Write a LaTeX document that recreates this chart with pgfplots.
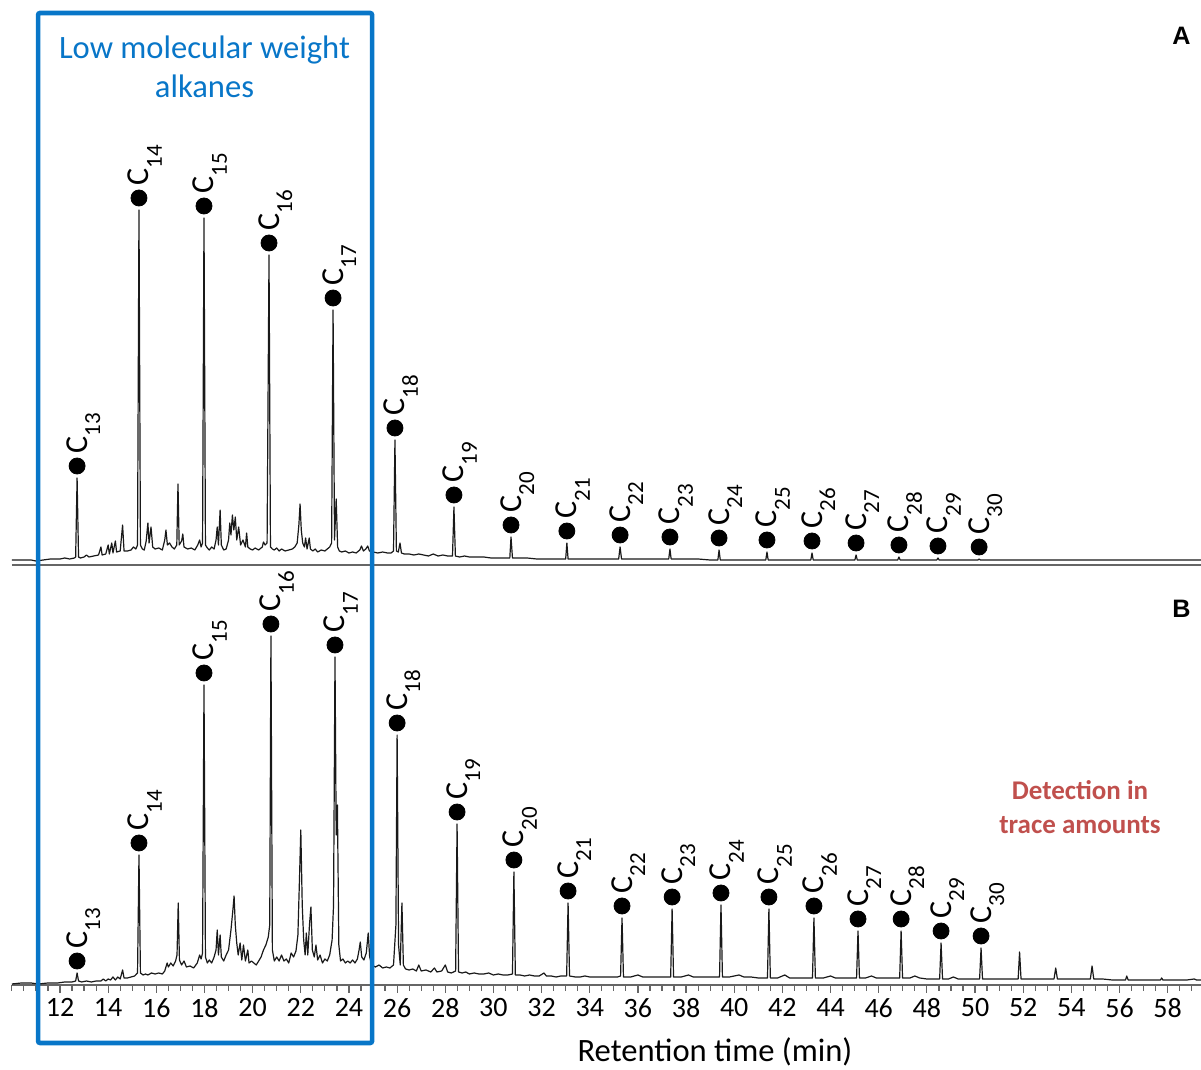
\documentclass[border=0pt]{standalone}
\usepackage{fontspec}
\setmainfont{Carlito}
\newfontfamily\arialf{Liberation Sans}
\usepackage{pgfplots}
\pgfplotsset{compat=1.18}
\definecolor{boxblue}{RGB}{8,118,200}
\definecolor{tracered}{RGB}{192,80,77}
\pgfplotsset{
  chrom/.style={scale only axis, x=12.04pt, y=0.5pt, xmin=10, xmax=59.4, ymin=0,
    axis y line=none, axis x line=bottom, ytick=\empty, clip=false,
    x axis line style={-, black!60, line width=0.8pt}},
  trace/.style={black!90, line width=0.6pt, line join=round},
  dots/.style={only marks, mark=*, mark size=4pt, black, mark options={yshift=6pt}},
  labs/.style={only marks, mark=*, mark size=0.01pt, draw opacity=0, fill opacity=0,
    point meta=explicit symbolic,
    nodes near coords={C\raisebox{-6.5pt}{\fontsize{11.5}{12}\selectfont\pgfplotspointmeta}},
    every node near coord/.style={xshift=5pt, yshift=12pt, rotate=90, anchor=base west,
      inner sep=0pt, text opacity=1, black, font=\fontsize{16}{16}\selectfont}},
}
\begin{document}
\begin{tikzpicture}
% ---------------- Panel B (bottom) ----------------
\begin{axis}[chrom, at={(0,0)}, anchor=south west, ymax=420,
  xtick={12,14,...,58},
  xticklabels={12,14,16,18,20,22,24,26,28,30,32,34,36,38,40,42,44,46,48,50,52,54,56,58},
  minor xtick={10,10.5,...,59},
  xtick align=outside, major tick length=4pt, minor tick length=3pt,
  every tick/.style={black!60, line width=0.6pt},
  xticklabel style={font=\fontsize{14}{14}\selectfont, inner sep=2.5pt, text=black}]
\addplot[trace] table {
10.0 1
10.4 2
10.8 2
11.1 1
11.5 2
11.9 2
12.2 3
12.5 3
12.65 4
12.71 12
12.77 4
12.9 3
13.1 4
13.3 3
13.5 4
13.7 4
13.8 6
13.9 4
14.0 6
14.1 5
14.2 8
14.3 5
14.4 8
14.5 6
14.6 15
14.66 7
14.8 7
14.95 8
15.1 9
15.22 12
15.28 130
15.34 12
15.45 10
15.55 11
15.65 10
15.8 12
15.95 11
16.1 12
16.25 11
16.35 14
16.45 22
16.5 18
16.6 22
16.7 19
16.8 24
16.86 30
16.91 82
16.96 25
17.05 20
17.15 24
17.25 18
17.4 19
17.55 17
17.7 22
17.8 30
17.86 26
17.92 32
17.98 300
18.04 28
18.12 22
18.2 25
18.3 22
18.4 28
18.48 35
18.53 55
18.58 30
18.65 50
18.7 28
18.8 24
18.9 30
19.0 35
19.1 55
19.18 75
19.23 89
19.28 60
19.34 42
19.4 30
19.48 42
19.55 25
19.62 40
19.7 24
19.8 35
19.85 22
19.95 24
20.05 22
20.15 20
20.25 24
20.35 28
20.45 35
20.55 40
20.65 48
20.71 60
20.76 349
20.82 35
20.9 24
21.0 28
21.1 24
21.2 30
21.3 24
21.4 26
21.5 22
21.6 32
21.7 28
21.8 34
21.88 50
21.95 110
22.0 155
22.06 80
22.12 45
22.18 30
22.23 52
22.29 30
22.36 60
22.42 78
22.48 35
22.56 28
22.63 40
22.7 25
22.8 30
22.9 22
23.0 26
23.1 24
23.2 30
23.3 45
23.36 80
23.42 328
23.47 150
23.52 180
23.58 40
23.65 24
23.75 26
23.85 22
23.95 24
24.05 22
24.15 25
24.25 22
24.35 26
24.42 35
24.47 43
24.53 28
24.62 25
24.72 32
24.8 52
24.86 28
24.95 20
25.1 18
25.25 20
25.4 17
25.55 18
25.7 17
25.85 20
25.95 60
26.0 250
26.06 40
26.13 20
26.2 82
26.26 20
26.35 16
26.5 15
26.65 16
26.8 14
26.9 20
27.0 14
27.2 15
27.4 13
27.55 17
27.65 13
27.85 14
28.0 20
28.1 13
28.25 12
28.43 14
28.49 161
28.55 13
28.7 12
28.85 13
29.0 11
29.2 12
29.4 11
29.6 11
29.8 12
30.0 10
30.2 11
30.4 10
30.6 10
30.79 11
30.85 113
30.91 10
31.1 10
31.3 9
31.5 10
31.7 9
31.9 9
32.1 12
32.2 9
32.4 9
32.6 8
32.8 9
33.04 9
33.1 82
33.16 9
33.4 8
33.6 8
33.8 9
34.0 8
34.3 8
34.6 8
34.9 8
35.15 8
35.28 9
35.34 67
35.4 8
35.7 8
36.0 10
36.2 8
36.5 8
36.8 8
37.1 8
37.36 8
37.42 76
37.48 8
37.8 8
38.1 10
38.3 8
38.6 8
38.9 8
39.2 8
39.39 8
39.45 80
39.51 8
39.8 8
40.2 10
40.4 8
40.7 8
41.0 7
41.2 7
41.38 7
41.44 76
41.5 7
41.8 7
42.1 10
42.3 7
42.6 7
42.9 7
43.25 7
43.31 67
43.37 7
43.7 7
44.0 9
44.2 7
44.5 7
44.8 7
45.08 7
45.14 54
45.2 7
45.45 7
45.7 9
45.9 7
46.2 7
46.5 7
46.87 7
46.93 54
46.99 7
47.3 7
47.5 9
47.7 7
48.0 6
48.3 6
48.53 6
48.59 42
48.65 6
48.9 6
49.1 8
49.3 6
49.6 6
49.9 6
50.19 6
50.25 37
50.31 6
50.6 6
50.9 6
51.2 6
51.5 6
51.79 6
51.85 33
51.91 6
52.2 6
52.6 6
52.9 6
53.28 6
53.35 17
53.42 6
53.8 6
54.2 6
54.5 6
54.79 6
54.86 19
54.93 6
55.3 6
55.7 5
56.0 5
56.25 5
56.3 9
56.36 5
56.8 5
57.2 5
57.7 5
57.75 7
57.8 5
58.3 5
58.8 5
59.1 6
59.2 5
59.4 5
};
\addplot[dots] table {
12.71 12
15.28 130
17.98 300
20.76 349
23.42 328
26.00 250
28.49 161
30.85 113
33.10 82
35.34 67
37.42 76
39.45 80
41.44 76
43.31 67
45.14 54
46.93 54
48.59 42
50.25 37
};
\addplot[labs] table[meta index=2] {
12.71 12 13
15.28 130 14
17.98 300 15
20.76 349 16
23.42 328 17
26.00 250 18
28.49 161 19
30.85 113 20
33.10 82 21
35.34 67 22
37.42 76 23
39.45 80 24
41.44 76 25
43.31 67 26
45.14 54 27
46.93 54 28
48.59 42 29
50.25 37 30
};
\node[anchor=base, font=\arialf\bfseries\fontsize{12.6}{13}\selectfont] at (axis cs:58.57,367) {B};
\node[anchor=base, text=tracered, font=\bfseries\fontsize{13.5}{14}\selectfont] at (axis cs:54.36,185) {Detection in};
\node[anchor=base, text=tracered, font=\bfseries\fontsize{13.5}{14}\selectfont] at (axis cs:54.36,151) {trace amounts};
\node[anchor=base, font=\fontsize{16.3}{17}\selectfont] at (axis cs:39.2,-77) {Retention time (min)};
\end{axis}
% ---------------- Panel A (top) ----------------
\begin{axis}[chrom, at={(0,210pt)}, anchor=south west, ymax=565, xtick=\empty]
\addplot[trace] table {
10.0 5
10.4 5
10.8 5
11.0 4
11.3 5
11.6 6
11.8 6
12.0 6
12.2 7
12.4 6
12.6 7
12.65 8
12.71 87
12.77 8
12.85 7
13.0 8
13.1 10
13.2 8
13.4 9
13.6 10
13.7 18
13.75 10
13.9 11
14.0 20
14.05 11
14.15 22
14.2 12
14.3 24
14.35 13
14.5 14
14.6 40
14.66 14
14.8 14
14.95 15
15.05 18
15.15 16
15.22 20
15.28 355
15.34 20
15.42 16
15.5 15
15.58 24
15.65 42
15.7 22
15.78 38
15.85 18
15.95 16
16.1 17
16.25 15
16.35 25
16.4 35
16.46 20
16.55 22
16.65 18
16.75 16
16.85 20
16.9 81
16.95 20
17.05 24
17.1 31
17.15 18
17.3 16
17.45 17
17.6 15
17.72 20
17.8 25
17.86 18
17.92 22
17.98 347
18.04 20
18.12 17
18.2 15
18.3 18
18.4 16
18.48 25
18.53 38
18.58 20
18.65 55
18.7 20
18.8 15
18.9 16
19.0 25
19.05 42
19.1 30
19.16 50
19.22 35
19.28 48
19.34 25
19.42 38
19.5 20
19.6 25
19.7 18
19.75 32
19.8 18
19.9 16
20.0 15
20.1 17
20.25 15
20.4 18
20.45 23
20.52 20
20.6 22
20.68 310
20.74 18
20.82 16
20.9 15
21.0 17
21.1 14
21.2 16
21.35 14
21.5 15
21.65 16
21.75 18
21.85 22
21.92 40
21.97 61
22.02 35
22.08 22
22.15 18
22.2 27
22.26 16
22.35 27
22.4 16
22.5 14
22.6 16
22.7 13
22.85 15
23.0 14
23.1 16
23.2 18
23.28 22
23.34 255
23.4 25
23.47 66
23.53 18
23.6 14
23.7 13
23.85 14
24.0 12
24.15 13
24.3 12
24.45 15
24.52 19
24.6 14
24.7 16
24.78 19
24.85 14
25.0 13
25.2 12
25.4 13
25.6 12
25.75 12
25.85 14
25.91 125
25.97 14
26.05 13
26.12 22
26.18 12
26.3 11
26.5 11
26.7 10
26.9 11
27.1 10
27.3 9
27.5 11
27.7 9
27.9 10
28.1 9
28.3 9
28.36 58
28.42 9
28.6 8
28.8 9
29.0 8
29.3 8
29.6 8
29.9 7
30.2 7
30.5 7
30.68 7
30.73 28
30.79 7
31.0 7
31.4 7
31.8 6
32.2 6
32.6 6
33.0 6
33.05 22
33.1 6
33.5 6
34.0 6
34.5 6
35.2 6
35.26 18
35.32 6
35.8 6
36.4 6
37.0 6
37.28 6
37.33 16
37.38 6
37.9 6
38.5 6
39.0 5
39.32 5
39.37 15
39.42 5
40.0 5
40.6 5
41.31 5
41.36 13
41.41 5
42.0 5
42.6 5
43.18 5
43.23 12
43.28 5
44.0 5
44.5 5
45.01 5
45.06 10
45.11 5
45.6 5
46.2 5
46.79 5
46.84 8
46.89 5
47.5 5
48.0 5
48.41 5
48.46 7
48.51 5
49.2 5
49.8 5
50.12 5
50.17 6
50.22 5
51.0 5
52.0 5
53.0 5
54.0 5
55.0 5
56.0 5
57.0 5
58.0 5
59.4 5
};
\addplot[dots] table {
12.71 87
15.28 355
17.98 347
20.68 310
23.34 255
25.91 125
28.36 58
30.73 28
33.05 22
35.26 18
37.33 16
39.37 15
41.36 13
43.23 12
45.06 10
46.84 8
48.46 7
50.17 6
};
\addplot[labs] table[meta index=2] {
12.71 87 13
15.28 355 14
17.98 347 15
20.68 310 16
23.34 255 17
25.91 125 18
28.36 58 19
30.73 28 20
33.05 22 21
35.26 18 22
37.33 16 23
39.37 15 24
41.36 13 25
43.23 12 26
45.06 10 27
46.84 8 28
48.46 7 29
50.17 6 30
};
\node[anchor=base, font=\arialf\bfseries\fontsize{12.6}{13}\selectfont] at (axis cs:58.57,520) {A};
\node[anchor=base, text=boxblue, font=\fontsize{16.3}{17}\selectfont] at (axis cs:18.0,506) {Low molecular weight};
\node[anchor=base, text=boxblue, font=\fontsize{16.3}{17}\selectfont] at (axis cs:18.0,467) {alkanes};
\draw[boxblue, line width=2.3pt, rounded corners=1pt] (axis cs:11.09,-478) rectangle (axis cs:24.96,552);
\end{axis}
\pgfresetboundingbox
\path[use as bounding box] (-5.92pt,-42.5pt) rectangle (594.58pt,492.5pt);
\end{tikzpicture}
\end{document}
